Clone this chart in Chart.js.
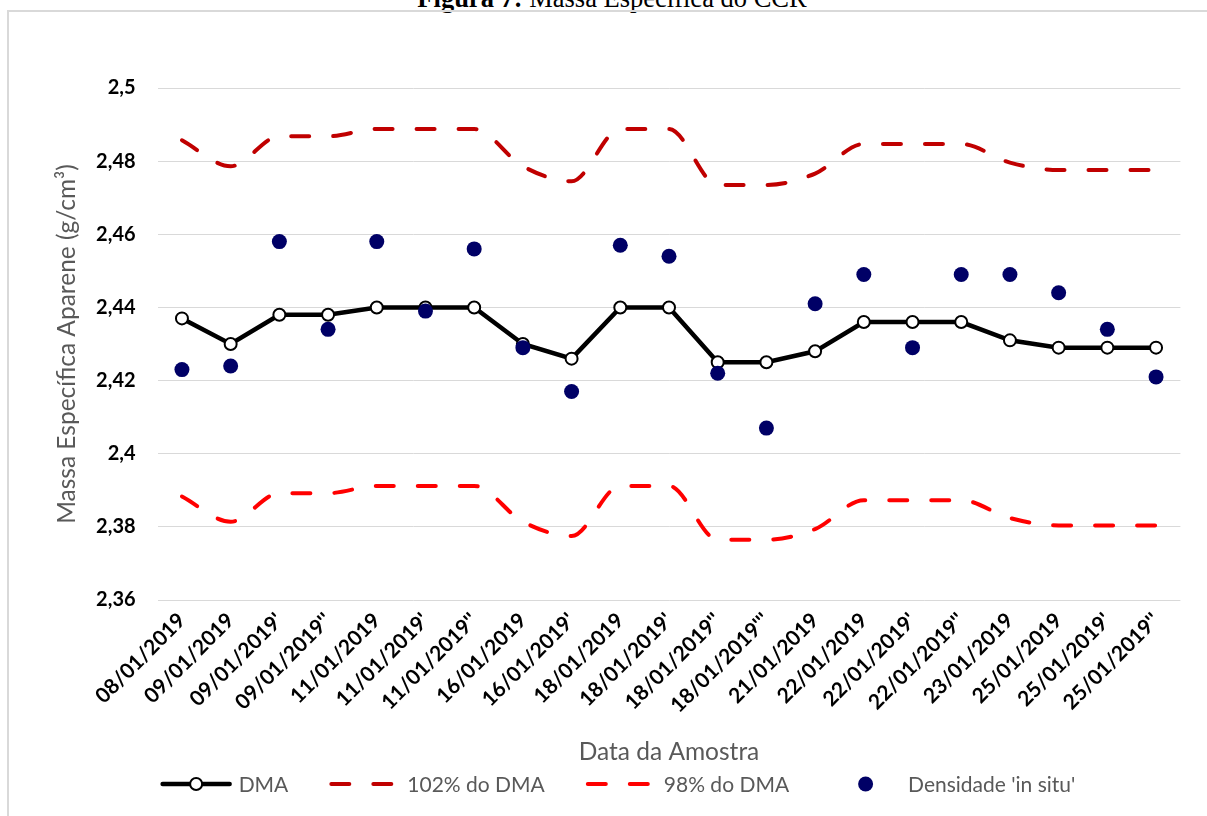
<!DOCTYPE html>
<html lang="pt">
<head>
<meta charset="utf-8">
<title>Massa Específica do CCR</title>
<script src="https://cdn.jsdelivr.net/npm/chart.js@4.4.1/dist/chart.umd.min.js"></script>
<style>
  html, body { margin: 0; padding: 0; width: 1207px; height: 816px; overflow: hidden; background: #fff; }
  #caption {
    position: absolute; left: 0; top: -15px; width: 1224px; text-align: center;
    font-family: "Liberation Serif", "Times New Roman", serif; font-size: 26.5px; line-height: 26.5px;
    color: #000; white-space: nowrap;
  }
  #frame {
    position: absolute; left: 7px; top: 10px; width: 1400px; height: 1000px;
    border: 2px solid #d9d9d9; box-sizing: border-box;
  }
  #wrap { position: absolute; left: 0; top: 0; width: 1207px; height: 816px; }
</style>
</head>
<body>
<div id="caption"><b>Figura 7:</b> Massa Específica do CCR</div>
<div id="frame"></div>
<div id="wrap"><canvas id="chart" width="1207" height="816"></canvas></div>
<script>
// Sample dates (primes mark repeated samples on the same day)
const categories = [
  "08/01/2019", "09/01/2019", "09/01/2019'", "09/01/2019''",
  "11/01/2019", "11/01/2019'", "11/01/2019''",
  "16/01/2019", "16/01/2019'",
  "18/01/2019", "18/01/2019'", "18/01/2019''", "18/01/2019'''",
  "21/01/2019", "22/01/2019", "22/01/2019'", "22/01/2019''",
  "23/01/2019", "25/01/2019", "25/01/2019'", "25/01/2019''"
];

// Maximum density (DMA), g/cm³
const dma = [
  2.437, 2.430, 2.438, 2.438,
  2.440, 2.440, 2.440,
  2.430, 2.426,
  2.440, 2.440, 2.425, 2.425,
  2.428, 2.436, 2.436, 2.436,
  2.431, 2.429, 2.429, 2.429
];

// Upper limit: 102% of DMA
const dma102 = [
  2.4857, 2.4786, 2.4868, 2.4868,
  2.4888, 2.4888, 2.4888,
  2.4786, 2.4745,
  2.4888, 2.4888, 2.4735, 2.4735,
  2.4766, 2.4847, 2.4847, 2.4847,
  2.4796, 2.4776, 2.4776, 2.4776
];

// Lower limit: 98% of DMA
const dma98 = [
  2.3883, 2.3814, 2.3892, 2.3892,
  2.3912, 2.3912, 2.3912,
  2.3814, 2.3775,
  2.3912, 2.3912, 2.3765, 2.3765,
  2.3794, 2.3873, 2.3873, 2.3873,
  2.3824, 2.3804, 2.3804, 2.3804
];

// Field density measurements ('in situ')
const inSitu = [
  2.423, 2.424, 2.458, 2.434,
  2.458, 2.439, 2.456,
  2.429, 2.417,
  2.457, 2.454, 2.422, 2.407,
  2.441, 2.449, 2.429, 2.449,
  2.449, 2.444, 2.434, 2.421
];

const yTickLabels = ["2,36", "2,38", "2,4", "2,42", "2,44", "2,46", "2,48", "2,5"];

const GREY_TEXT = "#595959";
const TEXT_FONT = "Lato";

// Legend drawn below the axis title: line/marker sample followed by the label
const bottomLegend = {
  id: "bottomLegend",
  afterDraw(chart, args, opts) {
    const ctx = chart.ctx;
    ctx.save();
    ctx.font = opts.font;
    const items = chart.data.datasets.map(ds => ({ ds, w: ctx.measureText(ds.label).width }));
    const total = items.reduce((s, it) => s + opts.boxWidth + opts.textGap + it.w, 0) +
                  opts.itemGap * (items.length - 1);
    let x = opts.centerX - total / 2;
    const y = opts.y;
    items.forEach(({ ds, w }) => {
      const mid = x + opts.boxWidth / 2;
      if (ds.showLine !== false) {
        ctx.save();
        ctx.strokeStyle = ds.borderColor;
        ctx.lineWidth = ds.borderWidth;
        ctx.lineCap = "round";
        ctx.setLineDash(ds.borderDash || []);
        ctx.beginPath();
        ctx.moveTo(x + 2, y);
        ctx.lineTo(x + opts.boxWidth - 2, y);
        ctx.stroke();
        ctx.restore();
      }
      if (ds.pointRadius > 0) {
        ctx.beginPath();
        ctx.arc(mid, y, ds.pointRadius, 0, Math.PI * 2);
        ctx.fillStyle = ds.pointBackgroundColor;
        ctx.fill();
        if (ds.pointBorderWidth > 0) {
          ctx.lineWidth = ds.pointBorderWidth;
          ctx.strokeStyle = ds.pointBorderColor;
          ctx.stroke();
        }
      }
      ctx.fillStyle = opts.color;
      ctx.textBaseline = "middle";
      ctx.textAlign = "left";
      ctx.fillText(ds.label, x + opts.boxWidth + opts.textGap, y + 1);
      x += opts.boxWidth + opts.textGap + w + opts.itemGap;
    });
    ctx.restore();
  }
};

new Chart(document.getElementById("chart"), {
  type: "line",
  data: {
    labels: categories,
    datasets: [
      {
        label: "DMA",
        data: dma,
        borderColor: "#000000",
        borderWidth: 4.5,
        tension: 0,
        pointRadius: 6,
        pointBackgroundColor: "#ffffff",
        pointBorderColor: "#000000",
        pointBorderWidth: 2,
        order: 1
      },
      {
        label: "102% do DMA",
        data: dma102,
        borderColor: "#C00000",
        borderWidth: 4,
        borderDash: [18, 24],
        borderCapStyle: "round",
        cubicInterpolationMode: "monotone",
        pointRadius: 0,
        order: 1
      },
      {
        label: "98% do DMA",
        data: dma98,
        borderColor: "#FF0000",
        borderWidth: 4,
        borderDash: [18, 24],
        borderCapStyle: "round",
        cubicInterpolationMode: "monotone",
        pointRadius: 0,
        order: 1
      },
      {
        label: "Densidade 'in situ'",
        data: inSitu,
        showLine: false,
        borderColor: "#000066",
        pointRadius: 7.5,
        pointBackgroundColor: "#000066",
        pointBorderColor: "#000066",
        pointBorderWidth: 0,
        order: 0
      }
    ]
  },
  options: {
    responsive: false,
    devicePixelRatio: 1,
    animation: false,
    layout: { padding: { left: 0, right: 26.6, top: 88, bottom: 48 } },
    plugins: {
      legend: { display: false },
      tooltip: { enabled: false },
      bottomLegend: {
        centerX: 618, y: 784, boxWidth: 71, textGap: 7, itemGap: 41,
        font: "21px " + TEXT_FONT, color: GREY_TEXT
      }
    },
    scales: {
      x: {
        type: "category",
        offset: true,
        grid: { display: false, drawTicks: false },
        border: { display: false },
        ticks: {
          autoSkip: false,
          minRotation: 45,
          maxRotation: 45,
          padding: 8,
          color: "#000",
          font: { family: TEXT_FONT, weight: "bold", size: 21 }
        },
        title: {
          display: true,
          text: "Data da Amostra",
          color: GREY_TEXT,
          font: { family: TEXT_FONT, size: 24.5 },
          padding: { top: 0, bottom: 1 }
        },
        afterFit(scale) { scale.height = 168; }
      },
      y: {
        min: 2.36,
        max: 2.5,
        grid: { color: "#d9d9d9", lineWidth: 1, drawTicks: false },
        border: { display: false },
        ticks: {
          stepSize: 0.02,
          padding: 22,
          color: "#000",
          font: { family: TEXT_FONT, weight: "bold", size: 20 },
          callback: (value, index) => yTickLabels[index]
        },
        title: {
          display: true,
          text: "Massa Específica Aparene (g/cm³)",
          color: GREY_TEXT,
          font: { family: TEXT_FONT, size: 24.5 },
          padding: { top: 52, bottom: 0 }
        },
        afterFit(scale) { scale.width = 157.6; }
      }
    }
  },
  plugins: [bottomLegend]
});
</script>
</body>
</html>
